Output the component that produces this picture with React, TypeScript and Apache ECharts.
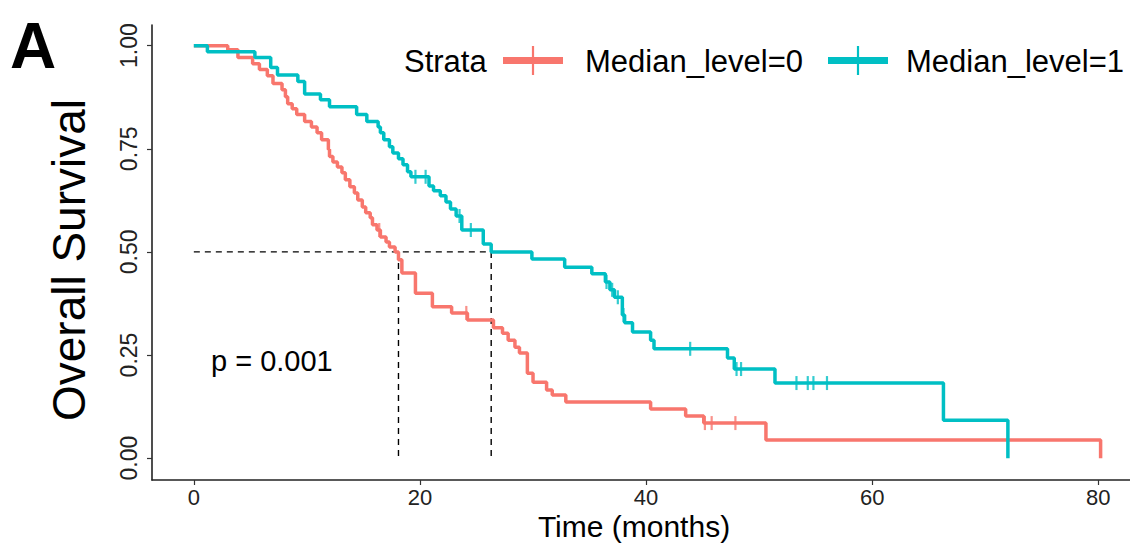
import React, { useEffect, useRef } from "react";
import * as echarts from "echarts";

// ---- Data ----
const xTicks = [0, 20, 40, 60, 80];
const yTicks = [0, 0.25, 0.5, 0.75, 1];

// Median_level=0 (red) Kaplan-Meier steps: time (months) and survival after the step
const redTimes = [0, 3.0, 3.9, 5.2, 5.8, 6.5, 7.0, 7.8, 8.1, 8.3, 8.7, 9.1, 9.8, 10.4, 10.9, 11.3, 11.9, 12.0, 12.3, 12.7, 13.1, 13.4, 13.8, 14.2, 14.5, 14.9, 15.2, 15.6, 15.8, 16.2, 16.5, 17.0, 17.3, 17.8, 18.1, 18.4, 19.6, 21.1, 22.8, 24.2, 26.5, 27.3, 27.8, 28.4, 28.8, 29.5, 30.0, 31.2, 31.7, 32.9, 40.4, 43.5, 45.1, 50.6, 80.2];
const redSurv = [1.0, 0.99, 0.971, 0.956, 0.942, 0.927, 0.908, 0.893, 0.876, 0.859, 0.847, 0.833, 0.816, 0.803, 0.789, 0.772, 0.748, 0.731, 0.718, 0.706, 0.692, 0.675, 0.658, 0.643, 0.626, 0.609, 0.595, 0.583, 0.566, 0.553, 0.536, 0.524, 0.512, 0.5, 0.481, 0.449, 0.4, 0.367, 0.352, 0.335, 0.316, 0.303, 0.286, 0.269, 0.255, 0.206, 0.184, 0.165, 0.153, 0.136, 0.119, 0.102, 0.085, 0.044, 0.0];
const redCensorTimes = [16.4, 24.1, 45.2, 45.8, 47.9];
const redCensorSurv = [0.553, 0.352, 0.085, 0.085, 0.085];

// Median_level=1 (teal)
const tealTimes = [0, 1.2, 5.4, 6.8, 7.4, 9.2, 9.8, 11.2, 12.0, 14.4, 15.3, 16.3, 16.5, 16.8, 17.3, 17.6, 18.1, 18.5, 18.9, 19.2, 20.8, 21.2, 21.8, 22.3, 22.7, 23.2, 23.7, 25.6, 26.3, 29.9, 32.8, 35.2, 36.4, 36.8, 37.2, 37.9, 38.1, 38.8, 40.4, 40.7, 47.2, 47.8, 51.4, 66.3, 72.0];
const tealSurv = [1.0, 0.985, 0.971, 0.947, 0.929, 0.913, 0.883, 0.869, 0.852, 0.833, 0.816, 0.803, 0.789, 0.772, 0.755, 0.74, 0.726, 0.711, 0.694, 0.682, 0.66, 0.648, 0.636, 0.621, 0.604, 0.587, 0.553, 0.519, 0.5, 0.483, 0.463, 0.447, 0.427, 0.408, 0.39, 0.347, 0.328, 0.306, 0.286, 0.265, 0.243, 0.216, 0.182, 0.092, 0.0];
const tealCensorTimes = [19.6, 20.5, 23.5, 24.5, 36.5, 37.0, 37.5, 38.0, 43.9, 48.0, 48.4, 53.3, 54.3, 54.8, 56.0];
const tealCensorSurv = [0.682, 0.682, 0.587, 0.553, 0.427, 0.408, 0.39, 0.347, 0.265, 0.216, 0.216, 0.182, 0.182, 0.182, 0.182];

const medianTimes = [18.1, 26.3];
const medianSurv = 0.5;

const groupNames = ["Median_level=0", "Median_level=1"];
const legendTitle = "Strata";
const pValueText = "p = 0.001";
const panelLabel = "A";
const xTitle = "Time (months)";
const yTitle = "Overall Survival";

const RED = "#F8766D";
const TEAL = "#00BFC4";
const FONT = "'Liberation Sans', Arial, Helvetica, sans-serif";

export default function App() {
  const ref = useRef<HTMLDivElement>(null);

  useEffect(() => {
    if (!ref.current) return;
    const chart = echarts.init(ref.current, null, { renderer: "svg" });

    const zip = (a: number[], b: number[]) => a.map((t, i) => [t, b[i]]);

    const option: any = {
      animation: false,
      backgroundColor: "#ffffff",
      grid: { left: 152, right: 0, top: 25, bottom: 65, containLabel: false },
      xAxis: {
        type: "value",
        min: -3.7,
        max: 82.8,
        axisLine: { show: true, onZero: false, lineStyle: { color: "#222", width: 1.6 } },
        axisTick: { show: true, customValues: xTicks, length: 5, lineStyle: { color: "#333", width: 1.2 } },
        axisLabel: {
          customValues: xTicks,
          fontSize: 22,
          fontFamily: FONT,
          color: "#222",
          margin: 6,
        },
        splitLine: { show: false },
      },
      yAxis: {
        type: "value",
        min: -0.053,
        max: 1.05,
        axisLine: { show: true, onZero: false, lineStyle: { color: "#222", width: 1.6 } },
        axisTick: { show: true, customValues: yTicks, length: 5, lineStyle: { color: "#333", width: 1.2 } },
        axisLabel: {
          customValues: yTicks,
          formatter: (v: number) => v.toFixed(2),
          fontSize: 23,
          fontFamily: FONT,
          color: "#222",
          rotate: 90,
          margin: 12,
        },
        splitLine: { show: false },
      },
      series: [
        {
          type: "line",
          name: "median-h",
          data: [[0, medianSurv], [medianTimes[1], medianSurv]],
          symbol: "none",
          lineStyle: { color: "#000", width: 1.4, type: [6, 5] },
          silent: true,
          z: 1,
        },
        ...medianTimes.map((t, i) => ({
          type: "line",
          name: "median-v" + i,
          data: [[t, medianSurv], [t, 0]],
          symbol: "none",
          lineStyle: { color: "#000", width: 1.4, type: [6, 5] },
          silent: true,
          z: 1,
        })),
        {
          type: "line",
          name: groupNames[0],
          data: zip(redTimes, redSurv),
          step: "end",
          symbol: "none",
          lineStyle: { color: RED, width: 3.5 },
          z: 2,
        },
        {
          type: "line",
          name: groupNames[1],
          data: zip(tealTimes, tealSurv),
          step: "end",
          symbol: "none",
          lineStyle: { color: TEAL, width: 3.5 },
          z: 3,
        },
        {
          type: "scatter",
          name: groupNames[0] + " censor",
          data: zip(redCensorTimes, redCensorSurv),
          symbol: "rect",
          symbolSize: [2.2, 14],
          itemStyle: { color: RED },
          z: 4,
        },
        {
          type: "scatter",
          name: groupNames[1] + " censor",
          data: zip(tealCensorTimes, tealCensorSurv),
          symbol: "rect",
          symbolSize: [2.2, 14],
          itemStyle: { color: TEAL },
          z: 4,
        },
      ],
      graphic: [
        {
          type: "text",
          left: 10,
          top: 14,
          style: { text: panelLabel, fontSize: 64, fontWeight: "bold", fontFamily: FONT, fill: "#000" },
        },
        {
          type: "text",
          x: 69,
          y: 260,
          rotation: Math.PI / 2,
          style: { text: yTitle, fontSize: 46, fontFamily: FONT, fill: "#000", align: "center", verticalAlign: "middle" },
        },
        {
          type: "text",
          x: 634,
          y: 526,
          style: { text: xTitle, fontSize: 30, fontFamily: FONT, fill: "#000", align: "center", verticalAlign: "middle" },
        },
        {
          type: "text",
          x: 211,
          y: 361,
          style: { text: pValueText, fontSize: 29, fontFamily: FONT, fill: "#000", align: "left", verticalAlign: "middle" },
        },
        {
          type: "text",
          x: 404,
          y: 61,
          style: { text: legendTitle, fontSize: 31, fontFamily: FONT, fill: "#000", align: "left", verticalAlign: "middle" },
        },
        { type: "rect", shape: { x: 503, y: 57, width: 60, height: 7 }, style: { fill: RED } },
        { type: "line", shape: { x1: 533, y1: 46, x2: 533, y2: 75 }, style: { stroke: RED, lineWidth: 2.2 } },
        {
          type: "text",
          x: 585,
          y: 61,
          style: { text: groupNames[0], fontSize: 31, fontFamily: FONT, fill: "#000", align: "left", verticalAlign: "middle" },
        },
        { type: "rect", shape: { x: 828, y: 57, width: 60, height: 7 }, style: { fill: TEAL } },
        { type: "line", shape: { x1: 858, y1: 46, x2: 858, y2: 75 }, style: { stroke: TEAL, lineWidth: 2.2 } },
        {
          type: "text",
          x: 906,
          y: 61,
          style: { text: groupNames[1], fontSize: 31, fontFamily: FONT, fill: "#000", align: "left", verticalAlign: "middle" },
        },
      ],
    };

    chart.setOption(option);
    return () => chart.dispose();
  }, []);

  return (
    <div
      ref={ref}
      style={{ position: "fixed", left: 0, top: 0, width: 1130, height: 545, background: "#fff" }}
    />
  );
}
